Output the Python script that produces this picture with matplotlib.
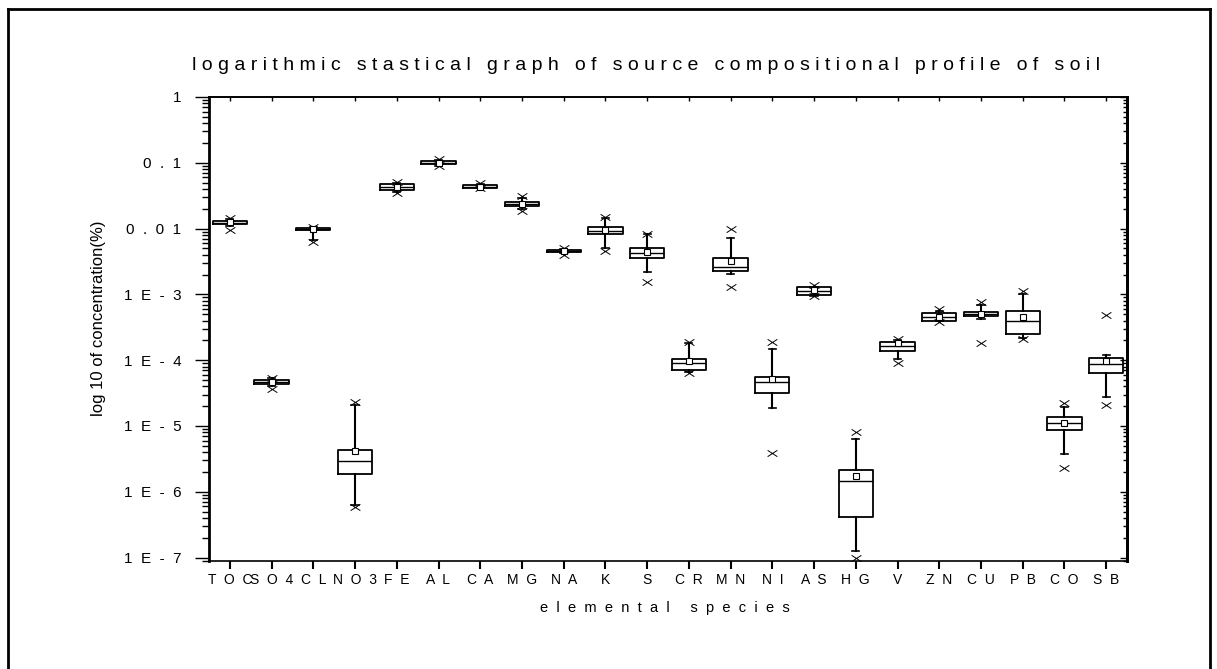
import matplotlib
matplotlib.use("Agg")
import matplotlib.pyplot as plt
from matplotlib.lines import Line2D
from matplotlib.path import Path

plt.rcParams['font.family'] = ['Liberation Sans', 'DejaVu Sans']

# species on the x axis
species = ["TOC", "SO4", "CL", "NO3", "FE", "AL", "CA", "MG", "NA", "K", "S",
           "CR", "MN", "NI", "AS", "HG", "V", "ZN", "CU", "PB", "CO", "SB"]

# box statistics (concentration, %)
q1 = [0.0116, 4.3e-5, 0.0094, 1.84e-6, 0.0385, 0.0946, 0.0413, 0.0222, 0.00444, 0.00825, 0.0036,
      7.08e-5, 0.00226, 3.13e-5, 0.000976, 4.17e-7, 1.39e-4, 3.97e-4, 4.68e-4, 2.49e-4, 8.67e-6, 6.44e-5]
median = [0.0123, 4.6e-5, 0.0098, 2.96e-6, 0.0428, 0.100, 0.0435, 0.0238, 0.00458, 0.00927, 0.0042,
          8.93e-5, 0.00257, 4.7e-5, 0.00112, 1.47e-6, 1.66e-4, 4.57e-4, 5.02e-4, 3.97e-4, 1.1e-5, 8.73e-5]
q3 = [0.0132, 5.0e-5, 0.0103, 4.3e-6, 0.0475, 0.105, 0.0458, 0.0255, 0.00471, 0.01043, 0.0050,
      1.04e-4, 0.0036, 5.48e-5, 0.00128, 2.14e-6, 1.9e-4, 5.14e-4, 5.32e-4, 5.57e-4, 1.35e-5, 1.065e-4]
mean = [0.0125, 4.7e-5, 0.0097, 4.2e-6, 0.0430, 0.100, 0.0435, 0.0240, 0.00458, 0.0095, 0.00443,
        9.7e-5, 0.0032, 5.1e-5, 0.00115, 1.73e-6, 1.8e-4, 4.6e-4, 5.1e-4, 4.57e-4, 1.1e-5, 9.7e-5]
whisker_lo = [0.0110, 4.0e-5, 0.0067, 6.2e-7, 0.036, 0.090, 0.0413, 0.0200, 0.00420, 0.0050, 0.0022,
              6.6e-5, 0.00204, 1.89e-5, 0.00095, 1.27e-7, 1.03e-4, 3.9e-4, 4.2e-4, 2.14e-4, 3.7e-6, 2.78e-5]
whisker_hi = [0.0140, 5.3e-5, 0.0105, 2.1e-5, 0.050, 0.110, 0.0480, 0.0290, 0.00490, 0.0143, 0.0083,
              1.84e-4, 0.0071, 1.47e-4, 0.0013, 6.33e-6, 2.05e-4, 5.5e-4, 6.87e-4, 1.0e-3, 1.92e-5, 1.2e-4]
x_lo = [0.0095, 3.6e-5, 0.0062, 5.9e-7, 0.035, 0.088, 0.041, 0.0184, 0.0040, 0.0046, 0.00152,
        6.43e-5, 0.0013, 3.92e-6, 0.00093, 9.7e-8, 8.9e-5, 3.83e-4, 1.84e-4, 2.1e-4, 2.27e-6, 2.06e-5]
x_hi = [0.0146, 5.4e-5, 0.0106, 2.33e-5, 0.0515, 0.113, 0.050, 0.031, 0.0050, 0.0151, 0.0084,
        1.87e-4, 0.00973, 1.87e-4, 0.0014, 8.0e-6, 2.09e-4, 5.9e-4, 7.7e-4, 1.12e-3, 2.25e-5, 4.84e-4]

ytick_vals = [1, 0.1, 0.01, 1e-3, 1e-4, 1e-5, 1e-6, 1e-7]
ytick_text = ["1", "0.1", "0.01", "1E-3", "1E-4", "1E-5", "1E-6", "1E-7"]

title = "logarithmic stastical graph of source compositional profile of soil"
xlabel = "elemental species"
ylabel = "log 10 of concentration(%)"


def spaced(s, gap=" "):
    # the original software drew its labels with wide letter spacing
    return gap.join(s)


stats = []
for i in range(len(species)):
    stats.append(dict(label=species[i], q1=q1[i], med=median[i], q3=q3[i], mean=mean[i],
                      whislo=whisker_lo[i], whishi=whisker_hi[i], fliers=[x_lo[i], x_hi[i]]))
pos = list(range(1, len(species) + 1))

# wide "x" used for the 1% / 99% points
xmark = Path([(-1, -0.65), (1, 0.65), (-1, 0.65), (1, -0.65)],
             [Path.MOVETO, Path.LINETO, Path.MOVETO, Path.LINETO])

fig = plt.figure(figsize=(12.17, 6.69), dpi=100)
ax = fig.add_axes([209 / 1217, 1 - 561 / 669, 918 / 1217, 464 / 669])

ax.bxp(stats, positions=pos, widths=0.82, capwidths=0.17, showmeans=True, showfliers=True,
       boxprops=dict(color='black', linewidth=1.3),
       medianprops=dict(color='black', linewidth=1.0),
       whiskerprops=dict(color='black', linewidth=1.5),
       capprops=dict(color='black', linewidth=1.2),
       meanprops=dict(marker='s', markerfacecolor='white', markeredgecolor='black',
                      markersize=4, markeredgewidth=0.8),
       flierprops=dict(marker=xmark, markersize=7, markeredgecolor='black',
                       markeredgewidth=0.7, linestyle='none'))

ax.set_yscale('log')
ax.set_ylim(10 ** -7.053, 1)
ax.set_xlim(0.5, 22.5)

ax.set_yticks(ytick_vals)
ax.set_yticklabels([spaced(t, "  ") for t in ytick_text], fontsize=11)
ax.set_xticks(pos)
ax.set_xticklabels([spaced(n, "  ") for n in species], fontsize=10)

ax.tick_params(axis='y', which='major', direction='out', length=10, width=1, pad=10, right=False)
ax.tick_params(axis='y', which='minor', direction='out', length=5, width=1, right=False)
ax.tick_params(axis='x', which='major', direction='out', length=6, width=1.5, pad=3, top=False)

ax.spines['left'].set_linewidth(2)
ax.spines['right'].set_linewidth(2)
ax.spines['top'].set_linewidth(1.2)
ax.spines['bottom'].set_linewidth(1.2)

# inward ticks on the right and top sides
right = ax.secondary_yaxis('right')
right.tick_params(which='major', direction='in', length=5, width=1, labelright=False)
right.tick_params(which='minor', direction='in', length=3, width=1)
right.set_yticks(ytick_vals)
right.set_yticklabels([])
right.spines['right'].set_linewidth(2)

top = ax.secondary_xaxis('top')
top.set_xticks(pos)
top.set_xticklabels([])
top.tick_params(direction='in', length=3, width=1)
top.spines['top'].set_linewidth(1.2)

fig.text(646 / 1217, 1 - 65 / 669, spaced(title), fontsize=14, ha='center', va='center')
fig.text(665 / 1217, 1 - 608 / 669, spaced(xlabel, "  "), fontsize=10.5, ha='center', va='center')
fig.text(98 / 1217, 1 - 318 / 669, ylabel, fontsize=12, rotation=90, ha='center', va='center')

# page frame
for xs, ys in [([0.0062, 0.0062], [0, 0.9865]), ([0.0062, 0.9942], [0.9865, 0.9865]),
               ([0.9942, 0.9942], [0.9865, 0])]:
    fig.add_artist(Line2D(xs, ys, transform=fig.transFigure, color='black', linewidth=2))

fig.savefig("out.png", dpi=100)
